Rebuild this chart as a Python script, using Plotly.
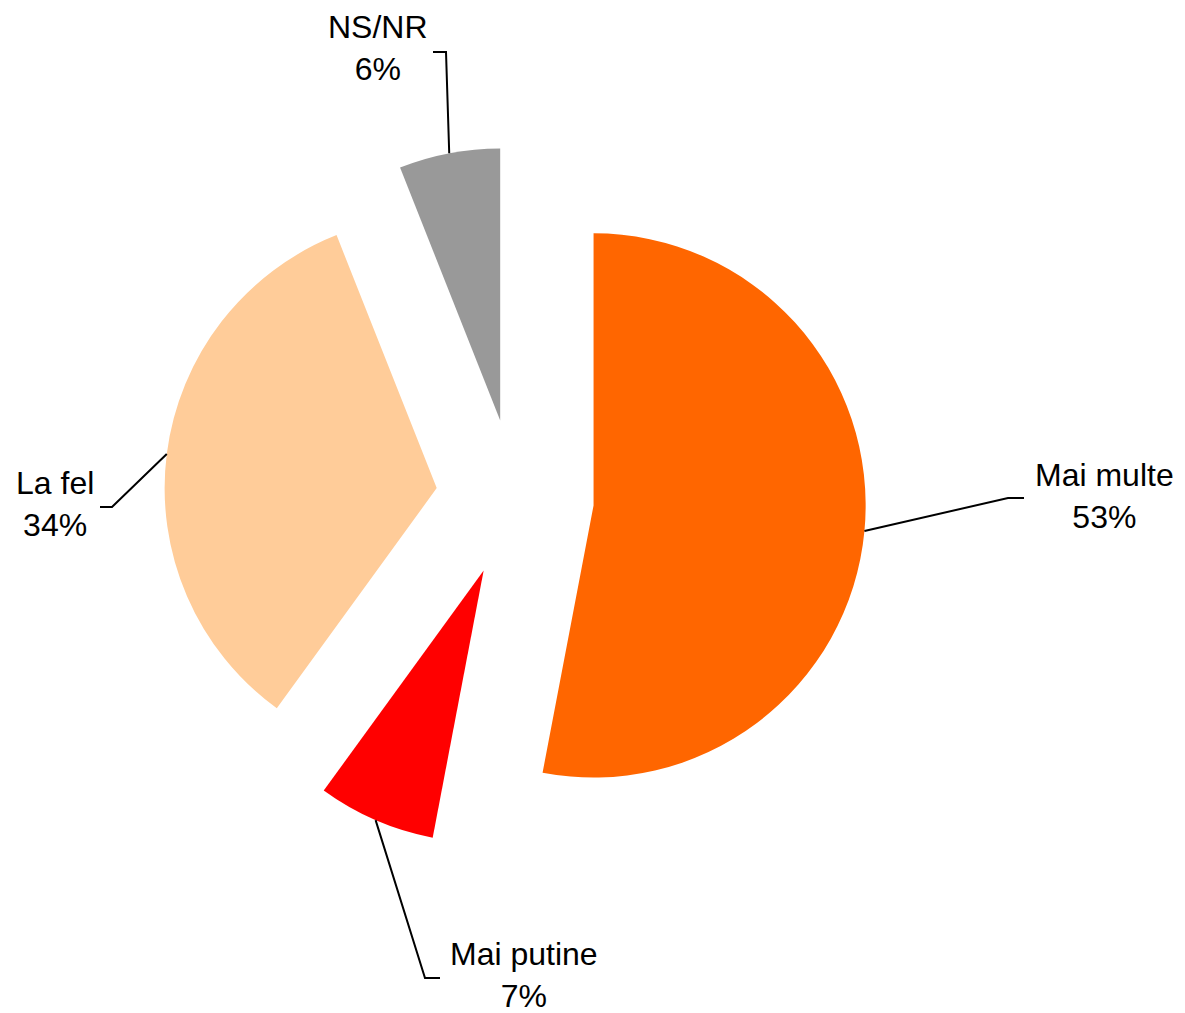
import math
import plotly.graph_objects as go

# ---- data ----
categories = ["Mai multe", "Mai putine", "La fel", "NS/NR"]
values = [53, 7, 34, 6]
colors = ["#FF6600", "#FF0000", "#FFCC99", "#999999"]

# ---- layout constants (pixels in the 1185x1013 window) ----
OFF = 8                    # default page body margin
W, H = 1185 - OFF, 1013 - OFF
PULL = 0.29
CX, CY = 515, 498          # pie centre (px, y down)
R_TOTAL = 351              # radius incl. pull
R = R_TOTAL / (1 + PULL)
D = PULL * R

# leader-line elbows / ends and text centres (px)
elbows = [(1008, 498), (425, 978), (112, 507), (446, 52)]
ends = [(1024, 498), (440, 978), (100, 507), (433, 52)]
text_pos = [(1104, 496), (524, 975), (55, 504), (378, 48)]

FONT = "Liberation Sans, Arial, sans-serif"


def px(x, y):
    return (x - OFF) / W, 1 - (y - OFF) / H


fig = go.Figure()
fig.add_trace(go.Pie(
    labels=categories,
    values=values,
    sort=False,
    direction="clockwise",
    rotation=0,
    pull=[PULL] * len(values),
    marker=dict(colors=colors, line=dict(width=0)),
    textinfo="none",
    hoverinfo="label+percent",
    showlegend=False,
    domain=dict(x=[(CX - R_TOTAL - OFF) / W, (CX + R_TOTAL - OFF) / W],
                y=[1 - (CY + R_TOTAL - OFF) / H, 1 - (CY - R_TOTAL - OFF) / H]),
))

total = sum(values)
shapes = []
annotations = []
cum = 0
for i, v in enumerate(values):
    mid = (cum + v / 2) / total * 2 * math.pi
    cum += v
    dx, dy = math.sin(mid), -math.cos(mid)
    ex, ey = CX + (R + D) * dx, CY + (R + D) * dy
    x0, y0 = px(ex, ey)
    x1, y1 = px(*elbows[i])
    x2, y2 = px(*ends[i])
    shapes.append(dict(
        type="path", xref="paper", yref="paper",
        path=f"M {x0},{y0} L {x1},{y1} L {x2},{y2}",
        line=dict(color="black", width=2),
    ))
    tx, ty = px(*text_pos[i])
    pct = round(v / total * 100)
    annotations.append(dict(
        x=tx, y=ty, xref="paper", yref="paper",
        text=f"{categories[i]}<br>{pct}%",
        showarrow=False, xanchor="center", yanchor="middle",
        font=dict(family=FONT, size=32, color="black"),
    ))

fig.update_layout(
    width=W, height=H,
    margin=dict(l=0, r=0, t=0, b=0),
    paper_bgcolor="white",
    plot_bgcolor="white",
    shapes=shapes,
    annotations=annotations,
    font=dict(family=FONT),
)

fig.write_html("out.html")
